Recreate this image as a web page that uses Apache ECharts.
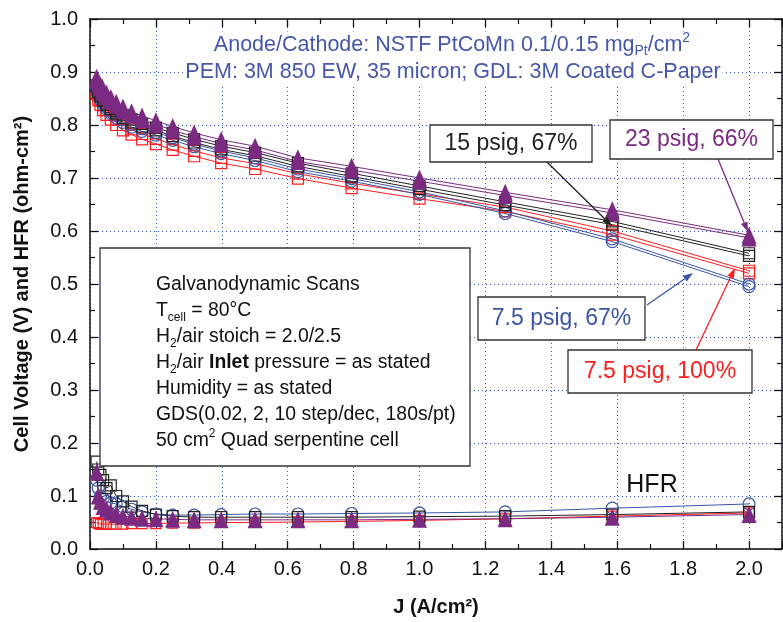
<!DOCTYPE html>
<html><head><meta charset="utf-8">
<script src="https://cdn.jsdelivr.net/npm/echarts@6/dist/echarts.min.js"></script>
<style>html,body{margin:0;padding:0;background:#fff}#c{width:783px;height:622px}</style>
</head><body><div id="c"></div>
<script>
// Current density (A/cm2), GDS 0.02 -> 2, 10 steps/decade
var J = [0.02,0.025,0.0316,0.0398,0.0501,0.0631,0.0794,0.1,0.126,0.158,0.2,0.251,0.316,0.398,0.501,0.631,0.794,1.0,1.26,1.585,2.0];
// Cell voltage, two scans per condition
var v23_66_a  = [0.890,0.882,0.875,0.868,0.860,0.852,0.843,0.834,0.825,0.817,0.808,0.797,0.785,0.772,0.760,0.738,0.722,0.700,0.673,0.640,0.592];
var v23_66_b  = [0.885,0.877,0.870,0.862,0.854,0.846,0.837,0.828,0.819,0.810,0.801,0.790,0.778,0.765,0.753,0.731,0.715,0.694,0.667,0.634,0.587];
var v15_67_a  = [0.875,0.866,0.858,0.850,0.842,0.834,0.826,0.818,0.810,0.802,0.795,0.785,0.773,0.760,0.748,0.728,0.709,0.685,0.655,0.618,0.558];
var v15_67_b  = [0.872,0.862,0.854,0.846,0.838,0.830,0.822,0.813,0.805,0.797,0.790,0.779,0.767,0.754,0.742,0.722,0.703,0.679,0.649,0.612,0.553];
var v75_67_a  = [0.870,0.861,0.852,0.843,0.834,0.826,0.818,0.810,0.801,0.793,0.786,0.776,0.764,0.751,0.738,0.717,0.699,0.674,0.638,0.585,0.500];
var v75_67_b  = [0.866,0.857,0.848,0.839,0.830,0.822,0.813,0.805,0.796,0.788,0.781,0.771,0.759,0.746,0.733,0.712,0.694,0.669,0.633,0.580,0.495];
var v75_100_a = [0.865,0.855,0.846,0.837,0.828,0.819,0.810,0.800,0.792,0.783,0.774,0.763,0.751,0.738,0.727,0.708,0.690,0.670,0.645,0.600,0.525];
var v75_100_b = [0.858,0.847,0.838,0.828,0.819,0.810,0.800,0.790,0.782,0.773,0.764,0.753,0.741,0.728,0.717,0.699,0.681,0.661,0.637,0.593,0.520];
// HFR (ohm-cm2)
var hfr75_67  = [0.130,0.115,0.100,0.095,0.090,0.087,0.085,0.080,0.075,0.070,0.066,0.064,0.064,0.065,0.066,0.066,0.067,0.068,0.070,0.077,0.085];
var hfr15_67  = [0.165,0.150,0.140,0.130,0.115,0.120,0.100,0.090,0.080,0.072,0.065,0.062,0.060,0.060,0.060,0.060,0.060,0.061,0.062,0.065,0.070];
var hfr23_66  = [0.145,0.100,0.090,0.080,0.075,0.070,0.065,0.062,0.060,0.058,0.057,0.056,0.055,0.055,0.055,0.055,0.055,0.056,0.057,0.060,0.065];
var hfr75_100 = [0.050,0.048,0.047,0.047,0.047,0.047,0.047,0.047,0.048,0.048,0.048,0.049,0.049,0.050,0.050,0.051,0.052,0.054,0.057,0.062,0.068];
var xTicks = [0,0.2,0.4,0.6,0.8,1.0,1.2,1.4,1.6,1.8,2.0];
var yTicks = [0,0.1,0.2,0.3,0.4,0.5,0.6,0.7,0.8,0.9,1.0];

var FONT = '"Liberation Sans", Arial, sans-serif';
var C_BLUE = '#3b55a6', C_RED = '#ff1e1e', C_BLACK = '#222222', C_PURPLE = '#7b2a82', C_TOP = '#4657aa';

function pts(arr){ return J.map(function(x,i){ return [x, arr[i]]; }); }
function ser(arr, color, sym, size, filled){
  return {
    type:'line', data:pts(arr), symbol:sym, symbolSize:size, showSymbol:true,
    lineStyle:{color:color, width:1},
    itemStyle:{color: filled ? color : 'rgba(255,255,255,0)', borderColor:color, borderWidth: filled ? 0 : 1.2},
    emphasis:{disabled:true}, animation:false, z:3
  };
}

var TRI = [15,17];
var series = [
  ser(hfr75_100, C_RED, 'rect', 10, false),
  ser(hfr75_67, C_BLUE, 'circle', 12, false),
  ser(hfr15_67, C_BLACK, 'rect', 11, false),
  ser(hfr23_66, C_PURPLE, 'triangle', TRI, true),
  ser(v75_100_a, C_RED, 'rect', 11, false),
  ser(v75_100_b, C_RED, 'rect', 11, false),
  ser(v75_67_a, C_BLUE, 'circle', 12, false),
  ser(v75_67_b, C_BLUE, 'circle', 12, false),
  ser(v15_67_a, C_BLACK, 'rect', 11, false),
  ser(v15_67_b, C_BLACK, 'rect', 11, false),
  ser(v23_66_b, C_PURPLE, 'triangle', TRI, true),
  ser(v23_66_a, C_PURPLE, 'triangle', TRI, true)
];

function arrow(x1,y1,x2,y2,color){
  var dx=x2-x1, dy=y2-y1, L=Math.sqrt(dx*dx+dy*dy), ux=dx/L, uy=dy/L;
  var hl=10, hw=3.5;
  var bx=x2-ux*hl, by=y2-uy*hl;
  return [
    {type:'line', z:50, shape:{x1:x1,y1:y1,x2:bx,y2:by}, style:{stroke:color, lineWidth:1.3}},
    {type:'polygon', z:50, shape:{points:[[x2,y2],[bx-uy*hw,by+ux*hw],[bx+uy*hw,by-ux*hw]]}, style:{fill:color}}
  ];
}
function labelBox(x,y,w,h,text,color){
  return [
    {type:'rect', z:50, shape:{x:x,y:y,width:w,height:h}, style:{fill:'#fff', stroke:'#333', lineWidth:1.3}},
    {type:'text', z:51, style:{text:text, x:x+w/2, y:y+h/2, align:'center', verticalAlign:'middle', fill:color, font:'23px '+FONT}}
  ];
}

var infoRich = {
  n:{fontSize:19.4, fontFamily:FONT, fill:'#111', lineHeight:26, verticalAlign:'middle'},
  b:{fontSize:19.4, fontFamily:FONT, fill:'#111', lineHeight:26, fontWeight:'bold', verticalAlign:'middle'},
  sub:{fontSize:12, fontFamily:FONT, fill:'#111', lineHeight:26, verticalAlign:'bottom'},
  sup:{fontSize:12, fontFamily:FONT, fill:'#111', lineHeight:26, verticalAlign:'top'}
};
var infoText = [
  '{n|Galvanodynamic Scans}',
  '{n|T}{sub|cell}{n| = 80°C}',
  '{n|H}{sub|2}{n|/air stoich = 2.0/2.5}',
  '{n|H}{sub|2}{n|/air }{b|Inlet}{n| pressure = as stated}',
  '{n|Humidity = as stated}',
  '{n|GDS(0.02, 2, 10 step/dec, 180s/pt)}',
  '{n|50 cm}{sup|2}{n| Quad serpentine cell}'
].join('\n');

var topRich = {
  n:{fontSize:21.5, fontFamily:FONT, fill:C_TOP, lineHeight:27, verticalAlign:'middle'},
  sub:{fontSize:14, fontFamily:FONT, fill:C_TOP, lineHeight:27, verticalAlign:'bottom'},
  sup:{fontSize:14, fontFamily:FONT, fill:C_TOP, lineHeight:27, verticalAlign:'top'}
};

var graphics = [].concat(
  [{type:'text', z:40, style:{text:'{n|Anode/Cathode: NSTF PtCoMn 0.1/0.15 mg}{sub|Pt}{n|/cm}{sup|2}', rich:topRich, x:452, y:45, align:'center', verticalAlign:'middle', backgroundColor:'#fff', padding:[0,2,0,2]}},
   {type:'text', z:40, style:{text:'{n|PEM: 3M 850 EW, 35 micron; GDL: 3M Coated C-Paper}', rich:topRich, x:453, y:72, align:'center', verticalAlign:'middle', backgroundColor:'#fff', padding:[0,2,0,2]}},
   {type:'rect', z:45, shape:{x:100,y:248,width:370,height:218}, style:{fill:'#fff', stroke:'#333', lineWidth:1.3}},
   {type:'text', z:46, style:{text:infoText, rich:infoRich, x:156, y:272, align:'left', verticalAlign:'top'}},
   {type:'text', z:46, style:{text:'HFR', x:652, y:485, align:'center', verticalAlign:'middle', fill:'#111', font:'25px '+FONT}}
  ],
  arrow(547,162,612,226,C_BLACK),
  arrow(718,159,748,232,C_PURPLE),
  arrow(647,305,693,273,C_BLUE),
  arrow(696,350,735,268,C_RED),
  labelBox(430,125,162,37,'15 psig, 67%',C_BLACK),
  labelBox(610,120,163,39,'23 psig, 66%',C_PURPLE),
  labelBox(478,297,167,43,'7.5 psig, 67%',C_BLUE),
  labelBox(568,350,184,43,'7.5 psig, 100%',C_RED)
);

var gridLine = {show:true, lineStyle:{color:'#3355cc', width:1, type:[1,3]}};
var chart = echarts.init(document.getElementById('c'), null, {renderer:'canvas'});
chart.setOption({
  animation:false,
  backgroundColor:'#fff',
  grid:{left:90, top:19, right:1, bottom:69, containLabel:false},
  xAxis:[
    {type:'value', position:'bottom', min:0, max:2.1, interval:0.2,
     axisLine:{show:true, onZero:false, lineStyle:{color:'#111', width:1.5}},
     axisTick:{show:true, inside:true, length:8, lineStyle:{color:'#111', width:1.3}},
     minorTick:{show:true, splitNumber:2, length:5, lineStyle:{color:'#111', width:1.2}},
     axisLabel:{show:true, fontSize:20, fontFamily:FONT, color:'#111', margin:10, showMaxLabel:false,
       formatter:function(v){ return xTicks.indexOf(Math.round(v*10)/10) >= 0 ? v.toFixed(1) : ''; }},
     splitLine:gridLine,
     name:'J (A/cm²)', nameLocation:'middle', nameGap:48,
     nameTextStyle:{fontSize:20, fontWeight:'bold', fontFamily:FONT, color:'#111'}},
    {type:'value', position:'top', min:0, max:2.1, interval:0.2,
     axisLine:{show:true, onZero:false, lineStyle:{color:'#111', width:1.5}},
     axisTick:{show:true, inside:true, length:8, lineStyle:{color:'#111', width:1.3}},
     minorTick:{show:true, splitNumber:2, length:5, lineStyle:{color:'#111', width:1.2}},
     axisLabel:{show:false}, splitLine:{show:false}}
  ],
  yAxis:[
    {type:'value', position:'left', min:0, max:1, interval:0.1,
     axisLine:{show:true, onZero:false, lineStyle:{color:'#111', width:1.5}},
     axisTick:{show:true, inside:true, length:8, lineStyle:{color:'#111', width:1.3}},
     minorTick:{show:true, splitNumber:2, length:5, lineStyle:{color:'#111', width:1.2}},
     axisLabel:{show:true, fontSize:20, fontFamily:FONT, color:'#111', margin:12,
       formatter:function(v){ return yTicks.indexOf(Math.round(v*10)/10) >= 0 ? v.toFixed(1) : ''; }},
     splitLine:gridLine,
     name:'Cell Voltage (V) and HFR (ohm-cm²)', nameLocation:'middle', nameGap:58,
     nameTextStyle:{fontSize:20, fontWeight:'bold', fontFamily:FONT, color:'#111'}},
    {type:'value', position:'right', min:0, max:1, interval:0.1,
     axisLine:{show:true, onZero:false, lineStyle:{color:'#111', width:1.5}},
     axisTick:{show:true, inside:true, length:8, lineStyle:{color:'#111', width:1.3}},
     minorTick:{show:true, splitNumber:2, length:5, lineStyle:{color:'#111', width:1.2}},
     axisLabel:{show:false}, splitLine:{show:false}}
  ],
  series:series,
  graphic:graphics
});
</script></body></html>
